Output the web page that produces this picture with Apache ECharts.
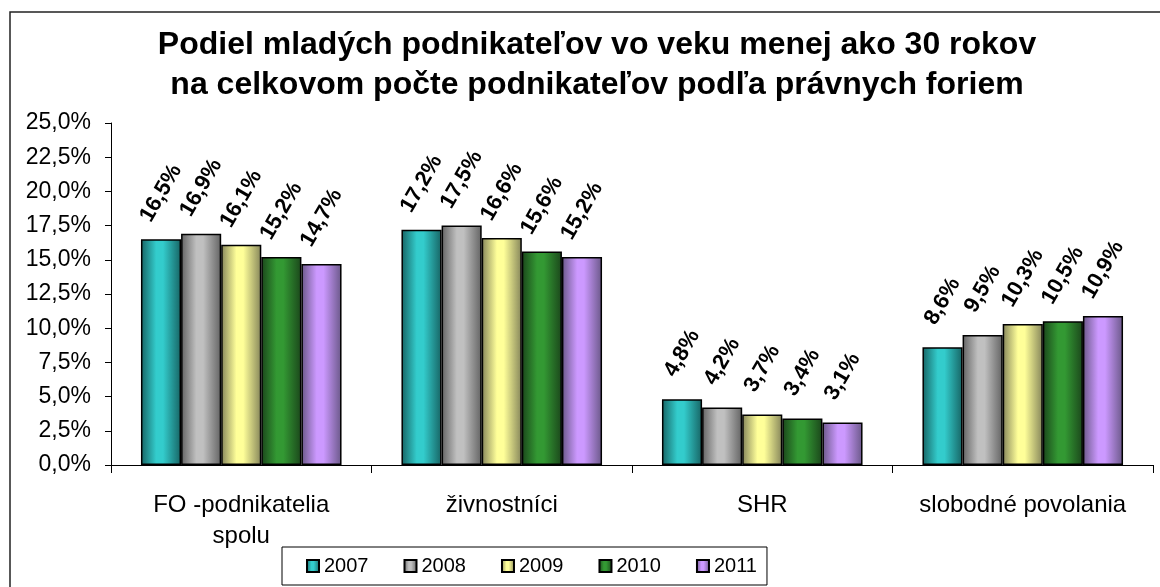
<!DOCTYPE html>
<html>
<head>
    <meta charset="UTF-8">
    <title>Podiel mladých podnikateľov</title>
    <script src="https://cdn.jsdelivr.net/npm/echarts@6/dist/echarts.min.js"></script>
    <style>
        html, body { margin: 0; padding: 0; background: #fff; }
        #chart { width: 1160px; height: 587px; }
    </style>
</head>
<body>
<div id="chart"></div>
<script>
    // kategorie (pravne formy)
    var categories = ['FO -podnikatelia\nspolu', 'živnostníci', 'SHR', 'slobodné povolania'];
    var years = ['2007', '2008', '2009', '2010', '2011'];
    // hodnoty v % podla rokov
    var v2007 = [16.5, 17.2, 4.8, 8.6];
    var v2008 = [16.9, 17.5, 4.2, 9.5];
    var v2009 = [16.1, 16.6, 3.7, 10.3];
    var v2010 = [15.2, 15.6, 3.4, 10.5];
    var v2011 = [14.7, 15.2, 3.1, 10.9];
    var values = [v2007, v2008, v2009, v2010, v2011];

    var font = '"Liberation Sans", Arial, sans-serif';
    // svetla / tmava farba pre gradient stlpcov
    var colorPairs = [
        ['#33CCCC', '#176464'],
        ['#C0C0C0', '#636363'],
        ['#FFFF99', '#85855a'],
        ['#339933', '#1b461b'],
        ['#CC99FF', '#6a5888']
    ];

    function grad(p) {
        return new echarts.graphic.LinearGradient(0, 0, 1, 0, [
            {offset: 0, color: p[1]},
            {offset: 0.38, color: p[0]},
            {offset: 0.55, color: p[0]},
            {offset: 1, color: p[1]}
        ]);
    }

    function pct(v) {
        return v.toFixed(1).replace('.', ',') + '%';
    }

    var series = years.map(function (y, i) {
        return {
            name: y,
            type: 'bar',
            barGap: 0,
            barCategoryGap: '23%',
            data: values[i],
            itemStyle: {
                color: grad(colorPairs[i]),
                borderColor: '#000',
                borderWidth: 1.5
            },
            label: {
                show: true,
                position: 'top',
                distance: 46,
                rotate: 60,
                align: 'center',
                verticalAlign: 'middle',
                fontFamily: font,
                fontWeight: 'bold',
                fontSize: 22,
                color: '#000',
                formatter: function (p) { return pct(p.value); }
            }
        };
    });

    var myChart = echarts.init(document.getElementById('chart'));
    var option = {
        animation: false,
        backgroundColor: '#fff',
        title: {
            text: 'Podiel mladých podnikateľov vo veku menej ako 30 rokov\nna celkovom počte podnikateľov podľa právnych foriem',
            left: 597,
            top: 25,
            padding: 0,
            textAlign: 'center',
            textStyle: {
                fontFamily: font,
                fontWeight: 'bold',
                fontSize: 32,
                lineHeight: 40,
                color: '#000'
            }
        },
        graphic: [{
            type: 'rect',
            z: -10,
            shape: {x: 10, y: 12, width: 1300, height: 700},
            style: {fill: 'none', stroke: '#222', lineWidth: 1.5}
        }],
        legend: {
            data: years,
            left: 282,
            top: 547,
            padding: [9, 10, 9, 24],
            itemWidth: 12,
            itemHeight: 12,
            itemGap: 35,
            icon: 'rect',
            borderColor: '#000',
            borderWidth: 1,
            backgroundColor: '#fff',
            textStyle: {fontFamily: font, fontSize: 20, color: '#000'}
        },
        grid: {left: 111, right: 7, top: 123, bottom: 122, containLabel: false},
        xAxis: {
            type: 'category',
            data: categories,
            axisLine: {lineStyle: {color: '#000', width: 1}},
            axisTick: {show: true, length: 8, lineStyle: {color: '#000'}},
            axisLabel: {
                margin: 25,
                fontFamily: font,
                fontSize: 24,
                lineHeight: 31,
                color: '#000',
                interval: 0
            }
        },
        yAxis: {
            type: 'value',
            min: 0,
            max: 25,
            interval: 2.5,
            splitLine: {show: false},
            axisLine: {show: true, lineStyle: {color: '#000', width: 1}},
            axisTick: {show: true, length: 6, lineStyle: {color: '#000'}},
            axisLabel: {
                margin: 20,
                fontFamily: font,
                fontSize: 23,
                color: '#000',
                formatter: function (v) { return pct(v); }
            }
        },
        series: series
    };
    myChart.setOption(option);
</script>
</body>
</html>
